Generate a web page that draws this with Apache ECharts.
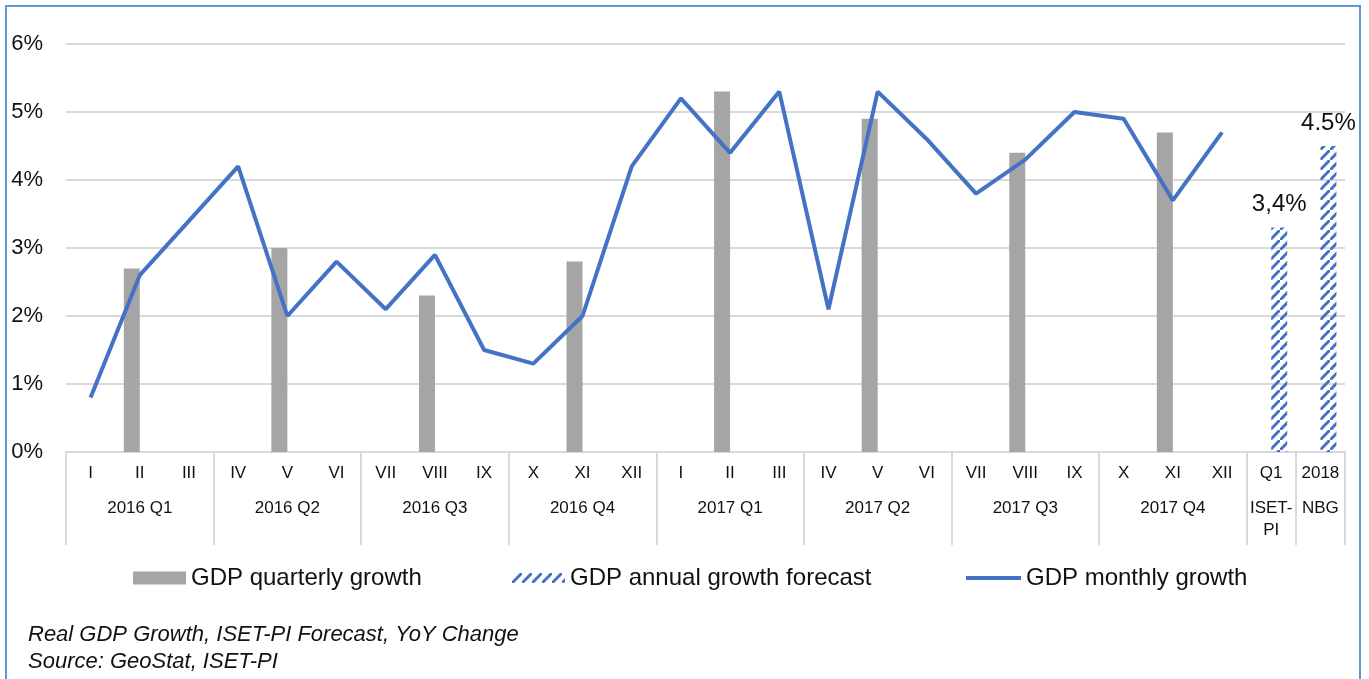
<!DOCTYPE html>
<html>
<head>
<meta charset="utf-8">
<script src="https://cdn.jsdelivr.net/npm/echarts@6/dist/echarts.min.js"></script>
<style>
  html, body { margin: 0; padding: 0; background: #fff; }
  #chart { width: 1369px; height: 679px; }
</style>
</head>
<body>
<div id="chart"></div>
<script>
// month labels on the first row, group labels on the second row
const months = ['I','II','III','IV','V','VI','VII','VIII','IX','X','XI','XII',
                'I','II','III','IV','V','VI','VII','VIII','IX','X','XI','XII',
                'Q1','2018'];
const groups = ['','2016 Q1','','','2016 Q2','','','2016 Q3','','','2016 Q4','',
                '','2017 Q1','','','2017 Q2','','','2017 Q3','','','2017 Q4','',
                'ISET-\nPI','NBG'];
const quarterly = ['-',2.7,'-','-',3.0,'-','-',2.3,'-','-',2.8,'-',
                   '-',5.3,'-','-',4.9,'-','-',4.4,'-','-',4.7,'-',
                   '-','-'];
const forecast = ['-','-','-','-','-','-','-','-','-','-','-','-',
                  '-','-','-','-','-','-','-','-','-','-','-','-',
                  3.3,4.5];
const forecastLabels = ['3,4%','4.5%'];
const monthly = [0.8,2.6,3.4,4.2,2.0,2.8,2.1,2.9,1.5,1.3,2.0,4.2,
                 5.2,4.4,5.3,2.1,5.3,4.6,3.8,4.3,5.0,4.9,3.7,4.7];
const yTicks = [0,1,2,3,4,5,6];

const FONT = '"Liberation Sans", Arial, sans-serif';

// wide upward diagonal hatch
function hatch(){
  const c = document.createElement('canvas');
  c.width = 10; c.height = 10;
  const g = c.getContext('2d');
  g.strokeStyle = '#4472c4';
  g.lineWidth = 3;
  g.beginPath();
  g.moveTo(-2, 12); g.lineTo(12, -2);
  g.stroke();
  return c;
}
const hatchFill = {image: hatch(), repeat: 'repeat'};

const legendText = {fontFamily: FONT, fontSize: 24, color: '#111'};

const chart = echarts.init(document.getElementById('chart'));
chart.setOption({
  animation: false,
  backgroundColor: '#fff',
  title: {
    text: 'Real GDP Growth, ISET-PI Forecast, YoY Change\nSource: GeoStat, ISET-PI',
    left: 23, top: 616,
    textStyle: {fontFamily: FONT, fontSize: 22, fontStyle: 'italic', fontWeight: 'normal',
                color: '#111', lineHeight: 27}
  },
  legend: [{
    left: 128, top: 561, itemWidth: 53, itemHeight: 13,
    textStyle: legendText,
    data: [{name: 'GDP quarterly growth', icon: 'rect'}]
  }, {
    left: 507, top: 561, itemWidth: 53, itemHeight: 10,
    textStyle: legendText,
    data: [{name: 'GDP annual growth forecast', icon: 'rect'}]
  }, {
    left: 961, top: 561, itemWidth: 55, itemHeight: 4,
    textStyle: legendText,
    data: [{name: 'GDP monthly growth', icon: 'rect'}]
  }],
  graphic: [{
    type: 'rect', silent: true,
    shape: {x: 6, y: 6, width: 1354, height: 700},
    style: {fill: 'none', stroke: '#5b9bd5', lineWidth: 2}
  }],
  grid: {left: 66, right: 24, top: 44, bottom: 227},
  xAxis: [{
    type: 'category', data: months, position: 'bottom',
    axisLine: {lineStyle: {color: '#d9d9d9', width: 2}},
    axisTick: {show: false},
    axisLabel: {interval: 0, margin: 13, fontFamily: FONT, fontSize: 17, color: '#111'}
  }, {
    type: 'category', data: groups, position: 'bottom',
    axisLine: {show: false},
    axisTick: {
      show: true, length: 93,
      lineStyle: {color: '#d9d9d9', width: 2},
      interval: function(i){ return i >= 24 || i % 3 === 0; }
    },
    axisLabel: {interval: 0, margin: 45, verticalAlign: 'top', lineHeight: 22,
                fontFamily: FONT, fontSize: 17, color: '#111'}
  }],
  yAxis: {
    type: 'value', min: yTicks[0], max: yTicks[yTicks.length - 1], interval: 1,
    axisLine: {show: false}, axisTick: {show: false},
    axisLabel: {margin: 23, fontFamily: FONT, fontSize: 22, color: '#111',
                formatter: v => v + '%'},
    splitLine: {lineStyle: {color: '#d9d9d9', width: 2}}
  },
  series: [{
    name: 'GDP quarterly growth', type: 'bar', data: quarterly,
    barWidth: 16, barGap: '0%',
    itemStyle: {color: '#a5a5a5'}
  }, {
    name: 'GDP annual growth forecast', type: 'bar', data: forecast,
    barWidth: 16, barGap: '0%',
    itemStyle: {color: hatchFill},
    label: {
      show: true, position: 'top', distance: 11,
      fontFamily: FONT, fontSize: 24, color: '#111',
      formatter: p => forecastLabels[p.dataIndex - 24]
    }
  }, {
    name: 'GDP monthly growth', type: 'line', data: monthly,
    symbol: 'none',
    lineStyle: {color: '#4472c4', width: 4},
    itemStyle: {color: '#4472c4'}
  }]
});
</script>
</body>
</html>
